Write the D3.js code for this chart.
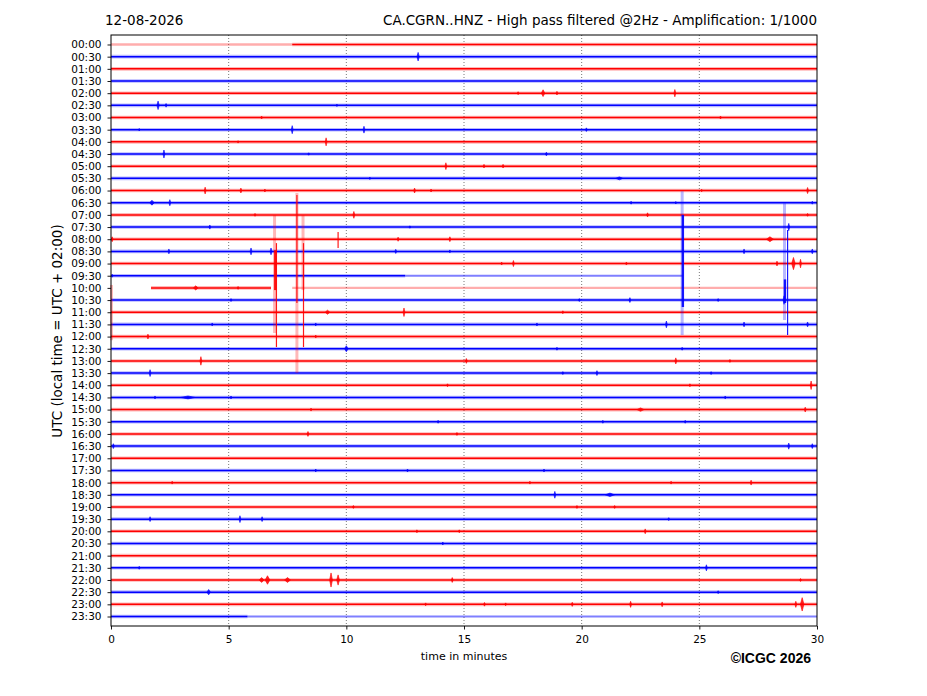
<!DOCTYPE html>
<html>
<head>
<meta charset="utf-8">
<script src="https://cdn.jsdelivr.net/npm/d3@7"></script>
<style>
  body { margin: 0; background: #fff; }
  text { font-family: "DejaVu Sans", sans-serif; }
</style>
</head>
<body>
<div id="chart"></div>
<script>
// Row labels (UTC start of each 30 min line)
var rowLabels = ["00:00","00:30","01:00","01:30","02:00","02:30","03:00","03:30",
  "04:00","04:30","05:00","05:30","06:00","06:30","07:00","07:30",
  "08:00","08:30","09:00","09:30","10:00","10:30","11:00","11:30",
  "12:00","12:30","13:00","13:30","14:00","14:30","15:00","15:30",
  "16:00","16:30","17:00","17:30","18:00","18:30","19:00","19:30",
  "20:00","20:30","21:00","21:30","22:00","22:30","23:00","23:30"];

var minuteTicks = [0, 5, 10, 15, 20, 25, 30];

// trace pieces that differ from a full 0-30 min trace: [row, from, to, kind]
var rowSegments = [
  [47, 5.8, 30, "thin"], [47, 0, 5.8, "normal"],
  [0, 0, 7.7, "faint"], [0, 7.7, 30, "normal"],
  [19, 0, 12.5, "normal"], [19, 12.5, 24.3, "thin"],
  [20, 1.7, 6.8, "normal"], [20, 7.7, 30, "faint"]
];

// small bursts: [row, minute, amplitude (rows), duration (min)]
var events = [
  [1,13.05,0.35,0.1],
  [4,17.3,0.12],[4,18.36,0.28,0.15],[4,18.95,0.15],[4,23.96,0.3],
  [5,2.0,0.35,0.1],[5,2.34,0.15],[5,9.6,0.1],
  [6,6.4,0.12],[6,25.9,0.12],
  [7,7.7,0.33],[7,10.75,0.28],[7,20.2,0.15],[7,1.2,0.1],
  [8,9.14,0.33],[8,5.4,0.1],
  [9,2.25,0.33],[9,18.5,0.15],[9,8.4,0.1],
  [10,14.23,0.28],[10,15.85,0.15],[10,16.66,0.15],
  [11,21.6,0.12,0.3],[11,11.0,0.1],
  [12,4.0,0.28],[12,5.52,0.2],[12,6.54,0.12],[12,12.9,0.2],[12,13.6,0.12],[12,29.6,0.25],[12,25.1,0.1],
  [13,1.74,0.2,0.2],[13,2.5,0.25],[13,22.1,0.12],[13,24.0,0.1],[13,29.8,0.12],
  [14,10.32,0.28],[14,6.12,0.12],[14,22.8,0.17],[14,29.6,0.12],
  [15,4.2,0.17],[15,12.7,0.1],[15,28.8,0.3],
  [16,0.05,0.2],[16,12.2,0.17],[16,14.4,0.2],[16,28.0,0.2,0.3],
  [17,5.95,0.28],[17,6.8,0.28],[17,2.46,0.2],[17,12.1,0.17],[17,14.4,0.12],[17,26.9,0.2],[17,29.8,0.2],
  [18,16.6,0.12],[18,17.1,0.25],[18,21.9,0.12],[18,28.3,0.2],[18,29.0,0.5,0.15],[18,29.3,0.35],
  [19,0.05,0.12],
  [20,3.6,0.17,0.2],[20,5.4,0.12],
  [21,5.1,0.12],[21,19.9,0.12],[21,22.05,0.2],[21,28.6,0.35],[21,25.8,0.12],
  [22,9.2,0.17,0.2],[22,12.45,0.35],[22,19.2,0.12],
  [23,23.6,0.28],[23,26.9,0.2],[23,29.6,0.2],[23,4.3,0.12],[23,8.7,0.12],[23,18.1,0.12],
  [24,1.57,0.2],[24,8.7,0.12],
  [25,10.0,0.25,0.15],[25,18.95,0.12],[25,24.27,0.12],
  [26,3.82,0.35],[26,15.1,0.2],[26,24.0,0.25],[26,26.3,0.12],
  [27,1.66,0.28],[27,20.65,0.2],[27,19.2,0.12],[27,25.5,0.12],
  [28,29.75,0.35],[28,24.6,0.12],[28,14.3,0.12],
  [29,3.27,0.12,0.6],[29,1.87,0.12],[29,5.1,0.12],[29,26.1,0.12],
  [30,22.5,0.14,0.3],[30,29.5,0.2],[30,8.5,0.12],
  [31,13.9,0.12],[31,20.9,0.12],[31,24.4,0.12],
  [32,8.37,0.2],[32,14.7,0.12],
  [33,0.1,0.2],[33,28.8,0.25],[33,29.8,0.2],
  [35,8.7,0.12],[35,12.6,0.12],[35,18.4,0.12],
  [36,2.6,0.12],[36,17.8,0.12],[36,27.2,0.2],[36,23.8,0.12],
  [37,18.86,0.28],[37,21.2,0.14,0.4],
  [38,19.8,0.12],[38,21.4,0.12],[38,10.3,0.12],
  [39,1.66,0.2],[39,5.48,0.28],[39,6.42,0.2],[39,23.7,0.12],
  [40,13.0,0.12],[40,22.7,0.2],[40,14.8,0.12],
  [41,14.1,0.12],
  [43,25.3,0.25],[43,1.2,0.12],
  [44,6.4,0.2,0.2],[44,6.65,0.35,0.2],[44,7.5,0.2,0.25],[44,9.35,0.58,0.12],[44,9.65,0.42,0.12],[44,14.5,0.2],[44,29.3,0.12],
  [45,4.15,0.22,0.15],[45,25.8,0.12],
  [46,13.37,0.12],[46,15.87,0.15],[46,16.77,0.12],[46,19.6,0.17],[46,22.08,0.25],[46,23.42,0.2],[46,29.1,0.25],[46,29.37,0.55,0.15]
];

// big spikes crossing several lines: [row, minute, up (rows), down (rows), kind]
var spikes = [
  [18, 6.95, 3.98, 5.71, "faint"],
  [18, 7.03, 1.68, 6.86, "solid"],
  [18, 6.98, 1.1, 2.18, "heavy"],
  [18, 7.9, 5.8, 9.0, "faint"],
  [18, 7.9, 5.63, 3.25, "solid"],
  [18, 8.16, 3.98, 2.18, "faint"],
  [18, 8.18, 1.68, 6.86, "solid"],
  [16, 9.65, 0.6, 0.72, "solid"],
  [20, 0.02, 0.24, 4.3, "faint"],
  [19, 24.27, 6.94, 4.87, "faint"],
  [19, 24.3, 4.99, 2.57, "heavy"],
  [19, 28.62, 5.95, 3.64, "faint"],
  [19, 28.64, -0.3, 2.24, "heavy"],
  [19, 28.75, 3.76, 4.87, "solid"]
];

var svgWidth = 927;
var svgHeight = 696;

var svg = d3.select("#chart").append("svg")
  .attr("width", svgWidth)
  .attr("height", svgHeight)
  .style("display", "block");

var x = d3.scaleLinear().domain([0, 30]).range([111, 817]);
var y = d3.scalePoint().domain(rowLabels).range([35, 626]).padding(0.78);
var step = y.step();

function colorOf(row) { return row % 2 === 0 ? "#ff0000" : "#0000ff"; }

// dotted vertical grid
svg.append("g").selectAll("line")
  .data(minuteTicks.slice(1, -1))
  .enter().append("line")
  .attr("x1", d => x(d)).attr("x2", d => x(d))
  .attr("y1", 35).attr("y2", 626)
  .attr("stroke", "#555").attr("stroke-width", 0.8)
  .attr("stroke-dasharray", "1,2");

// every trace piece: overrides first, full rows for the rest
var pieces = rowSegments.slice();
rowLabels.forEach(function(lab, i) {
  if (!rowSegments.some(s => s[0] === i)) pieces.push([i, 0, 30, "normal"]);
});

// stroke passes per kind of trace piece
var styles = {
  normal: [[3.6, 0.28], [1.5, 1]],
  faint: [[2.4, 0.32]],
  thin: [[2, 0.5]]
};

var traces = svg.append("g");

pieces.forEach(function(p) {
  var yy = y(rowLabels[p[0]]);
  styles[p[3]].forEach(function(s) {
    traces.append("path")
      .attr("d", "M" + x(p[1]) + "," + yy + "H" + x(p[2]))
      .attr("fill", "none")
      .attr("stroke", colorOf(p[0]))
      .attr("stroke-width", s[0])
      .attr("stroke-opacity", s[1]);
  });
});

// bursts
traces.selectAll("path.ev")
  .data(events)
  .enter().append("path")
  .attr("class", "ev")
  .attr("d", function(d) {
    var yy = y(rowLabels[d[0]]);
    var half = (d[3] || 0.08) / 2;
    var a = d[2] * step;
    return "M" + x(d[1] - half) + "," + yy +
      "L" + x(d[1]) + "," + (yy - a) +
      "L" + x(d[1] + half) + "," + yy +
      "L" + x(d[1]) + "," + (yy + a) + "Z";
  })
  .attr("fill", d => colorOf(d[0]))
  .attr("fill-opacity", 0.85)
  .attr("stroke", d => colorOf(d[0]))
  .attr("stroke-width", 1)
  .attr("stroke-opacity", 0.6);

// large spikes
traces.selectAll("line.sp")
  .data(spikes)
  .enter().append("line")
  .attr("class", "sp")
  .attr("x1", d => x(d[1])).attr("x2", d => x(d[1]))
  .attr("y1", d => y(rowLabels[d[0]]) - d[2] * step)
  .attr("y2", d => y(rowLabels[d[0]]) + d[3] * step)
  .attr("stroke", d => colorOf(d[0]))
  .attr("stroke-width", d => d[4] === "faint" ? 3 : (d[4] === "heavy" ? 2.4 : 1.2))
  .attr("stroke-opacity", d => d[4] === "faint" ? 0.28 : 0.9);

// axes
var leftAxis = d3.axisLeft(y).tickSize(3.5).tickPadding(6);
var bottomAxis = d3.axisBottom(x).tickValues(minuteTicks).tickSize(3.5).tickPadding(6);

var gl = svg.append("g").attr("transform", "translate(111,0)").call(leftAxis);
var gb = svg.append("g").attr("transform", "translate(0,626)").call(bottomAxis);
[gl, gb].forEach(function(g) {
  g.select(".domain").remove();
  g.selectAll("line").attr("stroke", "#000").attr("stroke-width", 0.9);
  g.selectAll("text").attr("font-family", "DejaVu Sans").attr("font-size", 10.5).attr("fill", "#000");
});

// frame
svg.append("rect")
  .attr("x", 111).attr("y", 35).attr("width", 706).attr("height", 591)
  .attr("fill", "none").attr("stroke", "#000").attr("stroke-width", 1);

// texts
svg.append("text").attr("x", 105).attr("y", 25)
  .attr("font-size", 13.5).text("12-08-2026");
svg.append("text").attr("x", 600).attr("y", 25).attr("text-anchor", "middle")
  .attr("font-size", 13.5).text("CA.CGRN..HNZ - High pass filtered @2Hz - Amplification: 1/1000");
svg.append("text")
  .attr("transform", "translate(62,331) rotate(-90)")
  .attr("text-anchor", "middle").attr("font-size", 13.5)
  .text("UTC (local time = UTC + 02:00)");
svg.append("text").attr("x", 464).attr("y", 660).attr("text-anchor", "middle")
  .attr("font-size", 11).text("time in minutes");
svg.append("text").attr("x", 811).attr("y", 663).attr("text-anchor", "end")
  .style("font-family", "'Liberation Sans', Arial, sans-serif")
  .attr("font-weight", "bold").attr("font-size", 14).text("©ICGC 2026");
</script>
</body>
</html>
